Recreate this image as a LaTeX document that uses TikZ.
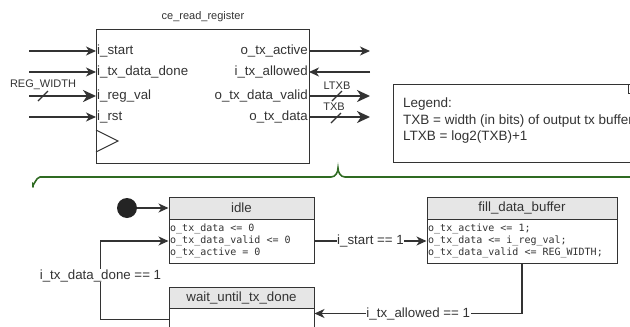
\documentclass[tikz,border=0pt]{standalone}
\usepackage{fontspec}
\setmainfont{Liberation Sans}
\setmonofont{DejaVu Sans Mono}
\usetikzlibrary{arrows.meta,calc}
\definecolor{ln}{HTML}{333333}
\definecolor{hdrfill}{HTML}{E6E6E6}
\definecolor{bracegreen}{HTML}{2F6B22}
\begin{document}
\begin{tikzpicture}[x=1pt,y=-1pt,
  every node/.style={text=ln},
  txt/.style={font=\fontsize{13.3}{15}\selectfont, inner sep=1pt, text height=9.5pt, text depth=2.5pt},
  small/.style={font=\fontsize{11}{13}\selectfont, inner sep=0pt},
  arr/.style={draw=ln, line width=1.1pt, -{Stealth[length=10pt,width=9pt,inset=3pt]}},
  busarr/.style={draw=ln, line width=2.2pt, -{Stealth[length=13pt,width=12pt,inset=4pt]}},
  slash/.style={draw=ln, line width=1.3pt},
  blk/.style={draw=ln, line width=1pt, minimum width=213pt, minimum height=134pt, inner sep=0pt},
  hdr/.style={draw=ln, fill=hdrfill, line width=1pt, inner sep=0pt, font=\fontsize{13.3}{15}\selectfont},
  body/.style={draw=ln, fill=white, line width=1pt, inner sep=0pt},
  code/.style={font=\ttfamily\fontsize{10}{12}\selectfont, align=left, inner sep=1pt, anchor=west},
  lbl/.style={txt, fill=white, inner sep=0.5pt},
  brace/.style={draw=bracegreen, line width=1.6pt, line cap=round}
]
\useasboundingbox (0,0) rectangle (630,327);
\clip (0,0) rectangle (630,327);

% ---------------- top-level block ----------------
\node[blk] (blk) at (202.5,96) {};
\node[small] (title) at (203,17) {ce\_read\_register};

% input ports
\node[txt, anchor=west] (istart) at (96,51) {i\_start};
\node[txt, anchor=west] (idone) at (96,72) {i\_tx\_data\_done};
\node[txt, anchor=west] (ireg) at (96,96) {i\_reg\_val};
\node[txt, anchor=west] (irst) at (96,117) {i\_rst};
\coordinate (istart-src) at (29,51);
\coordinate (idone-src) at (29,72);
\coordinate (ireg-src) at (29,96);
\coordinate (irst-src) at (29,117);
\draw[arr] (istart-src) -- (istart.west);
\draw[arr] (idone-src) -- (idone.west);
\draw[busarr] (ireg-src) -- (ireg.west);
\draw[arr] (irst-src) -- (irst.west);
\draw[slash] (38,101) -- (48,91);
\node[small] (regw) at (43,85) {REG\_WIDTH};

% clock marker
\draw[ln, line width=1pt] (96,130) -- (118,141) -- (96,152);

% output ports
\node[txt, anchor=east] (oact) at (309,51) {o\_tx\_active};
\node[txt, anchor=east] (iallow) at (309,72) {i\_tx\_allowed};
\node[txt, anchor=east] (ovalid) at (309,96) {o\_tx\_data\_valid};
\node[txt, anchor=east] (odata) at (309,117) {o\_tx\_data};
\coordinate (oact-dst) at (370,51);
\coordinate (iallow-src) at (370,72);
\coordinate (ovalid-dst) at (370,96);
\coordinate (odata-dst) at (370,117);
\draw[arr] (oact.east) -- (oact-dst);
\draw[arr] (iallow-src) -- (iallow.east);
\draw[busarr] (ovalid.east) -- (ovalid-dst);
\draw[busarr] (odata.east) -- (odata-dst);
\draw[slash] (332,101) -- (342,91);
\draw[slash] (331,123) -- (341,113);
\node[small] (ltxb) at (337,86) {LTXB};
\node[small] (txb) at (334,107) {TXB};

% legend
\draw[ln, line width=1pt] (393,84) rectangle (660,162);
\draw[ln, line width=1pt] (628,84) -- (628,93) -- (632,93);
\node[anchor=north west, align=left, inner sep=0pt,
      font=\fontsize{13.5}{16.5}\selectfont] (legend) at (403,98)
  {Legend:\\TXB = width (in bits) of output tx buffer\\LTXB = log2(TXB)+1};

% brace grouping the state machine
\draw[brace] (33,187) -- (33,184) to[out=-90,in=180] (40,177) -- (331,177)
  to[out=0,in=-90] (338,168) to[out=-90,in=180] (345,177) -- (660,177);

% ---------------- state machine ----------------
\node[circle, fill=ln!70!black, draw=none, minimum size=20pt, inner sep=0pt] (init) at (127,208) {};

\node[hdr, minimum width=145pt, minimum height=22pt] (idle) at (241.5,208) {idle};
\node[body, minimum width=145pt, minimum height=44pt] (idlebody) at (241.5,241) {};
\node[code] (idlecode) at (169,241) {o\_tx\_data <= 0\\o\_tx\_data\_valid <= 0\\o\_tx\_active = 0};

\node[hdr, minimum width=190pt, minimum height=22pt] (fill) at (522,208) {fill\_data\_buffer};
\node[body, minimum width=190pt, minimum height=44pt] (fillbody) at (522,241) {};
\node[code] (fillcode) at (427,241) {o\_tx\_active <= 1;\\o\_tx\_data <= i\_reg\_val;\\o\_tx\_data\_valid <= REG\_WIDTH;};

\node[hdr, minimum width=145pt, minimum height=21pt] (wait) at (241.5,297.5) {wait\_until\_tx\_done};
\node[body, minimum width=145pt, minimum height=40pt] (waitbody) at (241.5,328) {};

% transitions
\draw[arr] (init.east) -- (idle.west);
\draw[arr] (idlebody.east) -- (fillbody.west) node[lbl, midway] {i\_start == 1};
\draw[arr] (fillbody.south) |- ($(waitbody.north east)+(0,6)$)
  node[lbl, pos=0.75] {i\_tx\_allowed == 1};
\draw[arr] ($(waitbody.north west)+(0,12)$) -- ++(-68,0) |- (idlebody.west)
  node[lbl, pos=0.28] {i\_tx\_data\_done == 1};
\end{tikzpicture}
\end{document}
